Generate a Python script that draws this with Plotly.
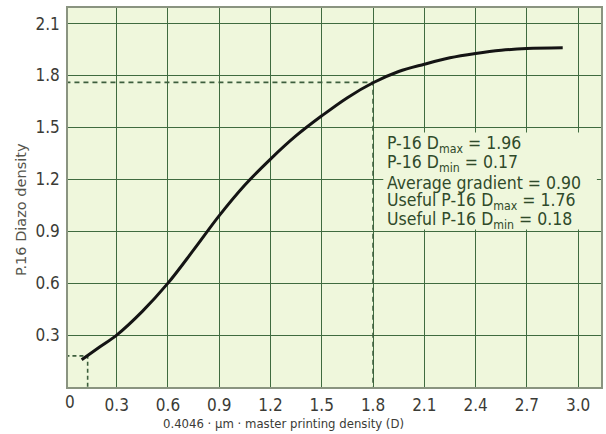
import plotly.graph_objects as go

# Curve data
master_density = [0.095, 0.2, 0.3, 0.45, 0.6, 0.75, 0.9, 1.05, 1.2, 1.35, 1.5, 1.65,
                  1.8, 1.95, 2.1, 2.25, 2.4, 2.55, 2.7, 2.91]
diazo_density = [0.157, 0.231, 0.3, 0.437, 0.6, 0.792, 0.99, 1.167, 1.317, 1.452, 1.567,
                 1.672, 1.758, 1.823, 1.865, 1.902, 1.927, 1.946, 1.956, 1.96]

# Reference (useful range) markers
useful_max_x, useful_max_y = 1.8, 1.76
useful_min_x, useful_min_y = 0.13, 0.18

x_ticks = [0, 0.3, 0.6, 0.9, 1.2, 1.5, 1.8, 2.1, 2.4, 2.7, 3.0]
x_tick_labels = ["0", "0.3", "0.6", "0.9", "1.2", "1.5", "1.8", "2.1", "2.4", "2.7", "3.0"]
y_ticks = [0.3, 0.6, 0.9, 1.2, 1.5, 1.8, 2.1]
y_tick_labels = ["0.3", "0.6", "0.9", "1.2", "1.5", "1.8", "2.1"]

info_lines = [
    "P-16 D<sub>max</sub> = 1.96",
    "P-16 D<sub>min</sub> = 0.17",
    "Average gradient = 0.90",
    "Useful P-16 D<sub>max</sub> = 1.76",
    "Useful P-16 D<sub>min</sub> = 0.18",
]
info_y = [1.40, 1.29, 1.18, 1.07, 0.96]

GRID = "#3f6b3f"
BG = "#eff7dc"
DASH = "#3d5f3d"
TXT = "#3b3b36"
FONT = "DejaVu Sans Condensed, DejaVu Sans, sans-serif"

ML, MR, MT, MB = 68, 5, 8, 47
W, H = 606, 434
PW, PH = W - ML - MR, H - MT - MB

fig = go.Figure()

# dashed guide lines
fig.add_trace(go.Scatter(x=[0, useful_max_x, useful_max_x], y=[useful_max_y, useful_max_y, 0],
                         mode="lines", line=dict(color=DASH, width=1.6, dash="5px,4px"),
                         hoverinfo="skip", showlegend=False))
fig.add_trace(go.Scatter(x=[0, useful_min_x, useful_min_x], y=[useful_min_y, useful_min_y, 0],
                         mode="lines", line=dict(color=DASH, width=1.6, dash="4px,3px"),
                         hoverinfo="skip", showlegend=False))

# main curve
fig.add_trace(go.Scatter(x=master_density, y=diazo_density, mode="lines",
                         line=dict(color="#141414", width=3, shape="spline", smoothing=1.0),
                         showlegend=False))

# text box background
fig.add_shape(type="rect", xref="x", yref="y", x0=1.86, x1=3.11, y0=0.91, y1=1.47,
              fillcolor=BG, line=dict(width=0), layer="above")

for t, yv in zip(info_lines, info_y):
    fig.add_annotation(x=1.87, y=yv, xref="x", yref="y", text=t, showarrow=False,
                       xanchor="left", yanchor="middle",
                       font=dict(family=FONT, size=17.5, color="#2f4a2a"))

# "0" tick label on x (axis range starts a hair past zero)
fig.add_annotation(x=(70 - ML) / PW, y=(MT + PH - 402) / PH, xref="paper", yref="paper",
                   text=x_tick_labels[0], showarrow=False, xanchor="center", yanchor="middle",
                   font=dict(family=FONT, size=17, color=TXT))

# x axis title
fig.add_annotation(x=(283 - ML) / PW, y=(MT + PH - 423) / PH, xref="paper", yref="paper",
                   text="0.4046 · µm · master printing density (D)", showarrow=False,
                   xanchor="center", yanchor="middle",
                   font=dict(family=FONT, size=13, color=TXT))

# y axis title
fig.add_annotation(x=(21 - ML) / PW, y=(MT + PH - 210) / PH, xref="paper", yref="paper",
                   text="P.16 Diazo density", showarrow=False, textangle=-90,
                   xanchor="center", yanchor="middle",
                   font=dict(family="DejaVu Sans, sans-serif", size=14.5, color="#55554c"))

fig.update_layout(
    width=W, height=H,
    margin=dict(l=ML, r=MR, t=MT, b=MB, autoexpand=False),
    paper_bgcolor="white",
    plot_bgcolor=BG,
    font=dict(family=FONT, size=17, color=TXT),
    xaxis=dict(range=[0.015, 3.134], tickvals=x_ticks, ticktext=x_tick_labels,
               showgrid=True, gridcolor=GRID, gridwidth=1.2, zeroline=False,
               showline=True, linecolor="#8a9480", linewidth=1.5, mirror=True,
               ticks="", automargin=False, ticklabelstandoff=2,
               tickfont=dict(size=17, color=TXT)),
    yaxis=dict(range=[0, 2.19], tickvals=y_ticks, ticktext=y_tick_labels,
               showgrid=True, gridcolor=GRID, gridwidth=1.2, zeroline=False,
               showline=True, linecolor="#8a9480", linewidth=1.5, mirror=True,
               ticks="", automargin=False, ticklabelstandoff=3,
               tickfont=dict(size=17, color=TXT)),
)

fig.write_html("out.html", config={"displayModeBar": False},
               post_script="document.body.style.margin='0';document.body.style.overflow='hidden';")
